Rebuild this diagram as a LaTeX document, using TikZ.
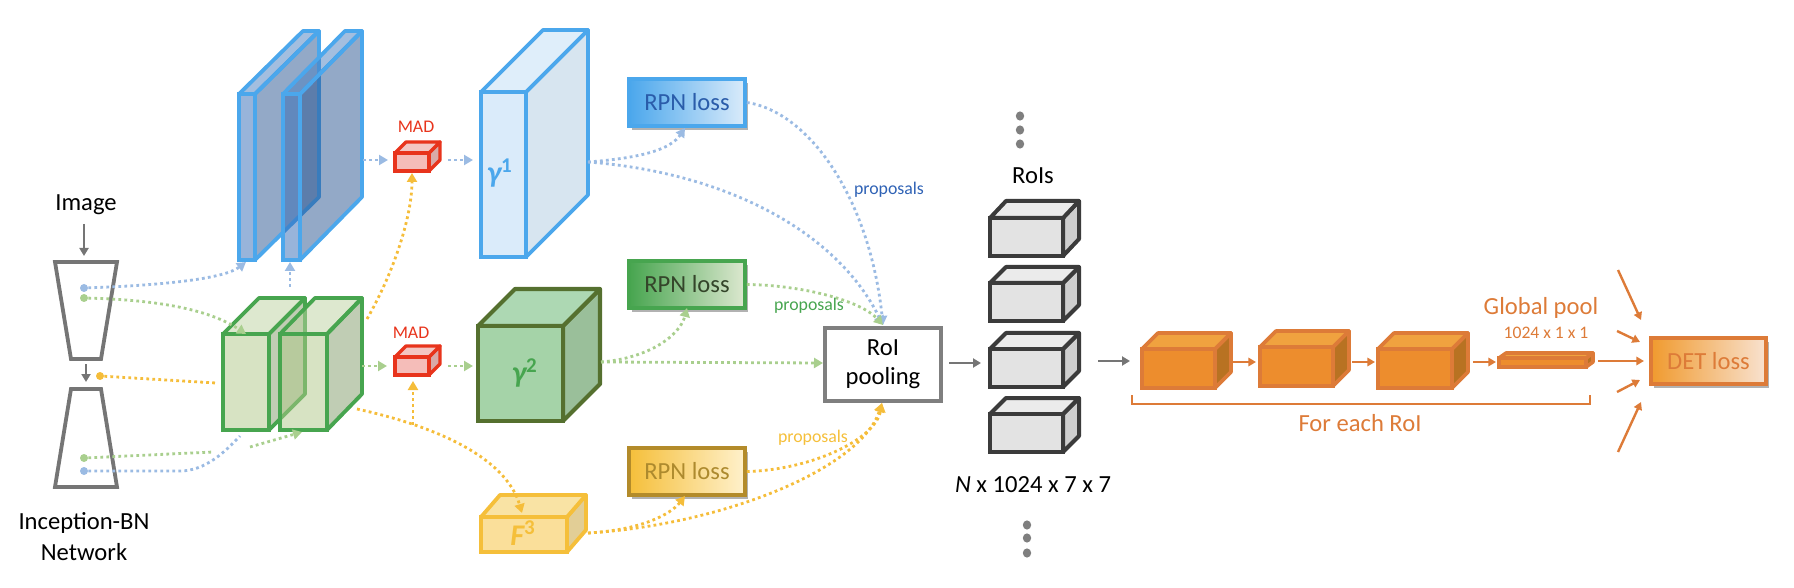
\documentclass[tikz,border=0pt]{standalone}
\usepackage{fontspec}
\setmainfont{Carlito}
\usetikzlibrary{arrows.meta,shadows,shapes.geometric}
\definecolor{bSline}{HTML}{4BA7EC}\definecolor{bSfront}{HTML}{3169B5}\definecolor{bStop}{HTML}{477DBF}\definecolor{bSside}{HTML}{27538F}
\definecolor{gSline}{HTML}{47A54F}\definecolor{gSfront}{HTML}{AFC787}\definecolor{gStop}{HTML}{BBD19F}\definecolor{gSside}{HTML}{819B69}
\definecolor{mline}{HTML}{E8341C}\definecolor{mfront}{HTML}{F5BDB9}\definecolor{mtop}{HTML}{F3C7C3}\definecolor{mside}{HTML}{D9AAA8}
\definecolor{yaline}{HTML}{4BA7EC}\definecolor{yafront}{HTML}{DAEBFA}\definecolor{yatop}{HTML}{DFEEFA}\definecolor{yaside}{HTML}{D7E5F0}
\definecolor{ybline}{HTML}{55702F}\definecolor{ybfront}{HTML}{A5D3A8}\definecolor{ybtop}{HTML}{ADD8B3}\definecolor{ybside}{HTML}{9ABF9A}
\definecolor{ycline}{HTML}{F5BF3A}\definecolor{ycfront}{HTML}{FADF9A}\definecolor{yctop}{HTML}{F9E3A4}\definecolor{ycside}{HTML}{E2CE96}
\definecolor{kline}{HTML}{3B3B3B}\definecolor{kfront}{HTML}{E3E3E3}\definecolor{ktop}{HTML}{EBEBEB}\definecolor{kside}{HTML}{CFCFCF}
\definecolor{oline}{HTML}{DD7B38}\definecolor{ofront}{HTML}{ED8D2D}\definecolor{otop}{HTML}{F0A23F}\definecolor{oside}{HTML}{B87222}
\definecolor{cblue}{HTML}{9BBBE3}\definecolor{cgreen}{HTML}{A9CF8E}\definecolor{cyel}{HTML}{F5BD3A}\definecolor{cgray}{HTML}{757575}
\definecolor{tblue}{HTML}{2A5CAA}\definecolor{tgreen}{HTML}{34452A}\definecolor{tyel}{HTML}{AD8A2E}
\definecolor{gend}{HTML}{DDE8D0}\definecolor{yend}{HTML}{FFF1CC}\definecolor{ystroke}{HTML}{B38B2A}\definecolor{oend}{HTML}{F8E2D0}\definecolor{ostart}{HTML}{F09A2E}
\definecolor{pbox}{HTML}{7F7F7F}\definecolor{tdots}{HTML}{7F7F7F}\definecolor{pblue}{HTML}{2F62B5}
\newcommand{\cubeshape}[8]{%
  \pgfmathsetmacro{\cdx}{#6-#4}\pgfmathsetmacro{\cdy}{#3-#7}%
  \pgfmathsetmacro{\cbl}{#2+\cdx}\pgfmathsetmacro{\cbb}{#5-\cdy}%
  \draw[#8 cube,line join=round,fill=#8side] (#4,#3) -- (#6,#7) -- (#6,\cbb) -- (#4,#5) -- cycle;
  \draw[#8 cube,line join=round,fill=#8top] (#2,#3) -- (\cbl,#7) -- (#6,#7) -- (#4,#3) -- cycle;
  \draw[#8 cube,line join=miter,fill=#8front] (#2,#3) rectangle (#4,#5);
  \pgfmathsetmacro{\cmx}{(#2+#4)/2}\pgfmathsetmacro{\cmy}{(#3+#5)/2}%
  \coordinate (#1) at (\cmx,\cmy);
}
\tikzset{
  bS cube/.style={draw=bSline,line width=1.9pt,fill opacity=.5},
  gS cube/.style={draw=gSline,line width=1.9pt,fill opacity=.5},
  m cube/.style={draw=mline,line width=1.7pt},
  ya cube/.style={draw=yaline,line width=1.9pt},
  yb cube/.style={draw=ybline,line width=2.1pt},
  yc cube/.style={draw=ycline,line width=1.9pt},
  k cube/.style={draw=kline,line width=2pt},
  o cube/.style={draw=oline,line width=1.8pt},
  big/.style={font=\fontsize{12.3}{14.5}\selectfont,inner sep=0pt,align=center},
  small/.style={font=\fontsize{8.9}{10}\selectfont,inner sep=0pt},
  gam/.style={font=\fontsize{15}{16}\selectfont\bfseries\itshape,inner sep=0pt},
  dotl/.style={line width=1.4pt,dash pattern=on 1.4pt off 1.6pt,-{Triangle[length=4.5pt,width=5pt]}},
  dotn/.style={line width=1.4pt,dash pattern=on 1.4pt off 1.6pt},
  bl/.style={dotl,draw=cblue},
  gr/.style={dotl,draw=cgreen},
  ye/.style={dotl,draw=cyel},
  grayarrow/.style={draw=cgray,line width=1.3pt,-{Triangle[length=4pt,width=4.5pt]}},
  orarrow/.style={draw=oline,line width=1.2pt,-{Triangle[length=3.8pt,width=4.2pt]}},
  trap/.style={draw=cgray,line width=1.9pt,line join=miter},
  srcdot/.style={circle,inner sep=0pt,minimum size=4pt},
  lossbox/.style={rectangle,minimum width=58pt,minimum height=23.5pt,inner sep=0pt,line width=1.9pt,
    font=\fontsize{12.3}{14.5}\selectfont,
    general shadow={fill=black!55,opacity=.55,shadow xshift=1.6pt,shadow yshift=-1.8pt}},
  tdot/.style={ellipse,fill=tdots,inner sep=0pt,minimum width=4.2pt,minimum height=4.6pt},
}
\begin{document}
\begin{tikzpicture}[x=0.5pt,y=-0.5pt]
\useasboundingbox (0,0) rectangle (1794,588);
% backbone
\draw[trap] (55,262) -- (117,262) -- (101,359) -- (71,359) -- cycle;
\draw[trap] (71,389) -- (101,389) -- (117,487) -- (55,487) -- cycle;
\coordinate (trapAtop) at (84,256); \coordinate (imgB) at (84,224);
\coordinate (trapAbot) at (86,364); \coordinate (trapBtop) at (86,382);
\node[big] (image) at (86,205) {Image};
\node[big] (incep) at (84,537) {Inception-BN\\[1pt]Network};
\draw[grayarrow] (imgB) -- (trapAtop);
\draw[grayarrow] (trapAbot) -- (trapBtop);
\node[srcdot,fill=cblue] (db1) at (84,288) {};
\node[srcdot,fill=cgreen] (dg1) at (84,298) {};
\node[srcdot,fill=cyel] (dy) at (100,376) {};
\node[srcdot,fill=cgreen] (dg2) at (84,458) {};
\node[srcdot,fill=cblue] (db2) at (84,471) {};
% slabs and green cubes
\cubeshape{slabA}{239}{94}{255}{260}{319}{31}{bS}
\cubeshape{slabB}{283}{94}{300}{260}{362}{31}{bS}
\cubeshape{gcA}{223}{334}{269}{430}{305}{298}{gS}
\cubeshape{gcB}{280}{334}{327}{430}{362}{298}{gS}
% MAD
\cubeshape{madA}{395}{153}{429}{171}{440}{142}{m}
\cubeshape{madB}{395}{357}{429}{375}{440}{346}{m}
\node[small,text=mline] (madAl) at (416,127) {MAD};
\node[small,text=mline] (madBl) at (411,333) {MAD};
% features
\cubeshape{yA}{481}{92}{526}{257}{588}{30}{ya}
\cubeshape{yB}{478}{326}{563}{421}{600}{289}{yb}
\cubeshape{yC}{481}{517}{567}{552}{586}{495}{yc}
\node[gam,text=yaline] (yAl) at (500,173) {γ\textsuperscript{\normalfont\bfseries 1}};
\node[gam,text=gSline] (yBl) at (525,373) {γ\textsuperscript{\normalfont\bfseries 2}};
\node[gam,text=ycline] (yCl) at (523,533) {F\textsuperscript{\normalfont\bfseries 3}};
% RPN boxes
\node[lossbox,draw=bSline,left color=bSline,right color=yafront,text=tblue] (rpnA) at (687,102.5) {RPN loss};
\node[lossbox,draw=gSline,left color=gSline,right color=gend,text=tgreen] (rpnB) at (687,284.5) {RPN loss};
\node[lossbox,draw=ystroke,left color=ycline,right color=yend,text=tyel] (rpnC) at (687,471.5) {RPN loss\hspace{3pt}};
% RoI pooling
\node[big,rectangle,draw=pbox,line width=2.1pt,fill=white,minimum width=58pt,minimum height=36.5pt] (roi) at (883,364.5) {RoI\\pooling};
% RoI cubes
\cubeshape{kA}{990}{218}{1063}{256}{1079}{201}{k}
\cubeshape{kB}{990}{283}{1063}{321}{1079}{267}{k}
\cubeshape{kC}{990}{349}{1063}{387}{1079}{333}{k}
\cubeshape{kD}{990}{414}{1063}{452}{1079}{398}{k}
\node[big] (roisl) at (1033,176) {RoIs};
\node[big] (nlab) at (1033,485) {\textit{N} x 1024 x 7 x 7};
\node[tdot] (ta) at (1020,116) {}; \node[tdot] (tb) at (1020,130) {}; \node[tdot] (tc) at (1020,144) {};
\node[tdot] (ba) at (1027,525) {}; \node[tdot] (bb) at (1027,538) {}; \node[tdot] (bc) at (1027,553) {};
% head
\cubeshape{oA}{1142}{349}{1215}{388}{1231}{333}{o}
\cubeshape{oB}{1260}{347}{1333}{386}{1349}{331}{o}
\cubeshape{oC}{1378}{349}{1452}{388}{1468}{333}{o}
\cubeshape{oD}{1499}{358}{1586}{367}{1593}{353}{o}
\node[big,text=oline] (gp) at (1541,308) {Global pool};
\node[font=\fontsize{8.8}{10}\selectfont,inner sep=0pt,text=oline] (gps) at (1546,333) {1024 x 1 x 1};
\node[big,text=oline] (fer) at (1360,423) {For each RoI};
\node[lossbox,draw=oline,left color=ostart,right color=oend,text=oline,minimum width=57.5pt,minimum height=23pt] (det) at (1708.5,361) {DET loss};
% bracket
\coordinate (brA) at (1132,395); \coordinate (brB) at (1132,404); \coordinate (brC) at (1590,404); \coordinate (brD) at (1590,395);
\draw[draw=oline,line width=1.2pt] (brA) -- (brB) -- (brC) -- (brD);
% connector end points
\coordinate (a1) at (246,262); \coordinate (a2a) at (290,287); \coordinate (a2b) at (290,262);
\coordinate (a3a) at (363,160); \coordinate (a3b) at (388,160);
\coordinate (a4a) at (448,160); \coordinate (a4b) at (473,160);
\coordinate (a5) at (246,334); \coordinate (a6) at (216,383);
\coordinate (a7) at (213,452); \coordinate (a8a) at (250,447); \coordinate (a8b) at (302,432);
\coordinate (a9) at (240,436);
\coordinate (b1a) at (367,319); \coordinate (b1b) at (412,173);
\coordinate (b2a) at (357,409); \coordinate (b2b) at (522,513);
\coordinate (b3a) at (413,425); \coordinate (b3b) at (413,381);
\coordinate (b4a) at (362,366); \coordinate (b4b) at (387,366);
\coordinate (b5a) at (448,366); \coordinate (b5b) at (473,366);
\coordinate (c1) at (588,162); \coordinate (c2) at (685,128);
\coordinate (c3) at (601,362); \coordinate (c4) at (687,308);
\coordinate (c5) at (823,363);
\coordinate (c6) at (588,533); \coordinate (c7) at (685,496);
\coordinate (roiN) at (883,325); \coordinate (roiS) at (882,403);
\coordinate (e1a) at (949,363); \coordinate (e1b) at (981,363);
\coordinate (e2a) at (1098,361); \coordinate (e2b) at (1130,361);
\coordinate (f1a) at (1233,362); \coordinate (f1b) at (1256,362);
\coordinate (f2a) at (1352,362); \coordinate (f2b) at (1375,362);
\coordinate (f3a) at (1473,362); \coordinate (f3b) at (1496,362);
\coordinate (g1a) at (1618,270); \coordinate (g1b) at (1641,320);
\coordinate (g2a) at (1617,331); \coordinate (g2b) at (1640,342);
\coordinate (g3a) at (1598,361); \coordinate (g3b) at (1644,361);
\coordinate (g4a) at (1617,392); \coordinate (g4b) at (1640,380);
\coordinate (g5a) at (1618,452); \coordinate (g5b) at (1641,402);
% connectors
\draw[bl] (db1) .. controls (170,285) and (225,278) .. (a1);
\draw[bl] (a2a) -- (a2b);
\draw[bl] (a3a) -- (a3b);
\draw[bl] (a4a) -- (a4b);
\draw[gr] (dg1) .. controls (160,300) and (210,310) .. (a5);
\draw[dotn,draw=cyel] (dy) -- (a6);
\draw[dotn,draw=cgreen] (dg2) -- (a7);
\draw[gr] (a8a) -- (a8b);
\draw[dotn,draw=cblue] (db2) -- (180,471) .. controls (205,471) and (225,452) .. (a9);
\draw[ye] (b1a) .. controls (395,270) and (412,215) .. (b1b);
\draw[ye] (b2a) .. controls (430,425) and (505,455) .. (b2b);
\draw[ye] (b3a) -- (b3b);
\draw[gr] (b4a) -- (b4b);
\draw[gr] (b5a) -- (b5b);
\draw[bl] (c1) .. controls (640,158) and (670,150) .. (c2);
\draw[bl] (c1) .. controls (720,172) and (835,228) .. (roiN);
\draw[bl] (rpnA.east) .. controls (810,112) and (870,200) .. (roiN);
\draw[gr] (c3) .. controls (650,358) and (680,335) .. (c4);
\draw[gr] (c3) -- (c5);
\draw[gr] (rpnB.east) .. controls (800,285) and (860,300) .. (roiN);
\draw[ye] (rpnC.east) .. controls (810,470) and (875,440) .. (roiS);
\draw[ye] (c6) .. controls (720,525) and (860,470) .. (roiS);
\draw[ye] (c6) .. controls (640,530) and (670,515) .. (c7);
\draw[grayarrow] (e1a) -- (e1b);
\draw[grayarrow] (e2a) -- (e2b);
\draw[orarrow] (f1a) -- (f1b);
\draw[orarrow] (f2a) -- (f2b);
\draw[orarrow] (f3a) -- (f3b);
\draw[orarrow] (g1a) -- (g1b);
\draw[orarrow] (g2a) -- (g2b);
\draw[orarrow] (g3a) -- (g3b);
\draw[orarrow] (g4a) -- (g4b);
\draw[orarrow] (g5a) -- (g5b);
% labels on connectors
\node[small,text=pblue] (pa) at (889,190) {proposals};
\node[small,text=gSline] (pb) at (809,306) {proposals};
\node[small,text=ycline] (pc) at (813,438) {proposals};
\end{tikzpicture}
\end{document}
